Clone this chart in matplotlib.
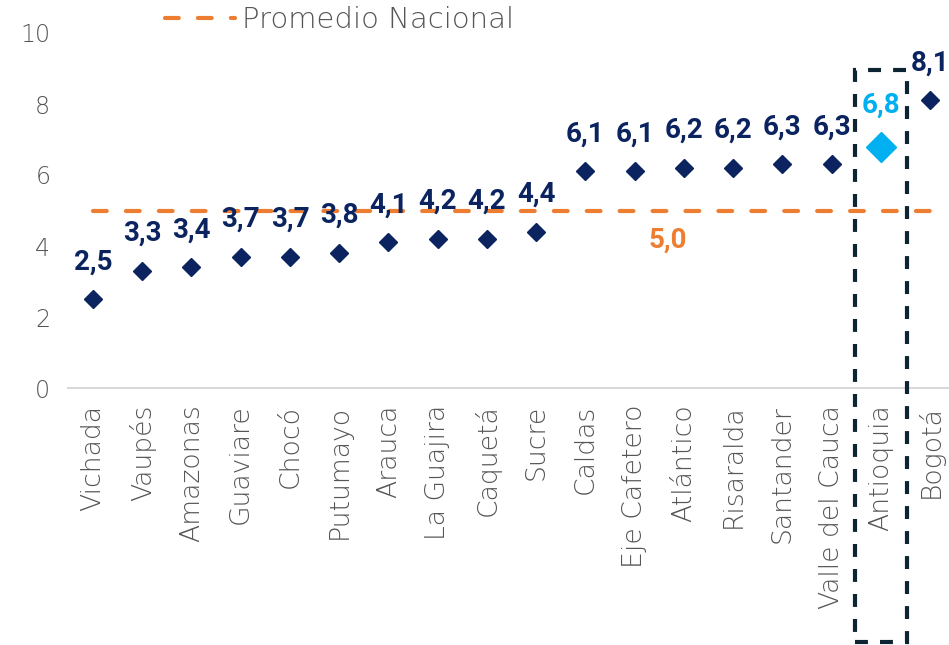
import matplotlib.pyplot as plt
from matplotlib.patches import Rectangle
from matplotlib.lines import Line2D

categories = ["Vichada", "Vaupés", "Amazonas", "Guaviare", "Chocó", "Putumayo", "Arauca",
              "La Guajira", "Caquetá", "Sucre", "Caldas", "Eje Cafetero", "Atlántico",
              "Risaralda", "Santander", "Valle del Cauca", "Antioquia", "Bogotá"]
values = [2.5, 3.3, 3.4, 3.7, 3.7, 3.8, 4.1, 4.2, 4.2, 4.4, 6.1, 6.1, 6.2, 6.2, 6.3, 6.3, 6.8, 8.1]
national_avg = 5.0
highlight = "Antioquia"
yticks = [0, 2, 4, 6, 8, 10]

NAVY = "#0B2460"
LIGHT = "#00B0F0"
ORANGE = "#ED7D31"
GRAY = "#555555"
FONT = "DejaVu Sans"
BFONT = "Roboto"
LW = 200

fig = plt.figure(figsize=(9.49, 6.45), dpi=100)
ax = fig.add_axes([68.4 / 949, 1 - 388 / 645, (954.6 - 68.4) / 949, (388 - 33) / 645])

x = list(range(len(categories)))
hi = categories.index(highlight)
for i, (xi, v) in enumerate(zip(x, values)):
    if i == hi:
        ax.plot(xi, v, marker="D", color=LIGHT, markersize=15, linestyle="none", zorder=4)
        ax.annotate(f"{v:.1f}".replace(".", ","), (xi, v), xytext=(0, 30), textcoords="offset points",
                    ha="center", va="center", color=LIGHT, fontsize=20, fontweight="bold",
                    family=BFONT, annotation_clip=False, zorder=6)
    else:
        ax.plot(xi, v, marker="D", color=NAVY, markersize=9, linestyle="none", zorder=4)
        ax.annotate(f"{v:.1f}".replace(".", ","), (xi, v), xytext=(0, 27), textcoords="offset points",
                    ha="center", va="center", color=NAVY, fontsize=20, fontweight="bold",
                    family=BFONT, annotation_clip=False, zorder=6)

avg_ls = (0, (3.3, 4.6))
ax.plot([x[0], x[-1]], [national_avg, national_avg], color=ORANGE, linewidth=3,
        linestyle=avg_ls, dash_capstyle="round", zorder=3)
ax.text(11.68, 4.17, f"{national_avg:.1f}".replace(".", ","), color=ORANGE, fontsize=20,
        fontweight="bold", family=BFONT, ha="center", va="center")

rect = Rectangle((hi - 0.53, -7.15), 1.07, 8.96 + 7.15, fill=False, edgecolor="#0D2433",
                 linewidth=3, linestyle=(0, (3.1, 2.9)), clip_on=False, zorder=5)
ax.add_patch(rect)

ax.set_xlim(-0.5, len(categories) - 0.5)
ax.set_ylim(0, 10)
ax.set_yticks(yticks)
ax.set_yticklabels([str(t) for t in yticks], color=GRAY, fontsize=17, family=FONT, fontweight=LW)
ax.set_xticks(x)
ax.set_xticklabels(categories, rotation=90, color=GRAY, fontsize=19.2, family=FONT, fontweight=LW)
ax.tick_params(axis="both", length=0)
ax.tick_params(axis="x", pad=12)
ax.tick_params(axis="y", pad=13)
for s in ["top", "right", "left"]:
    ax.spines[s].set_visible(False)
ax.spines["bottom"].set_color("#D9D9D9")
ax.spines["bottom"].set_linewidth(1.5)

handle = Line2D([0], [0], color=ORANGE, linewidth=3, linestyle=avg_ls, dash_capstyle="round")
fig.legend([handle], ["Promedio Nacional"], loc="center left", bbox_to_anchor=(165 / 949, 1 - 20 / 645),
           frameon=False, prop={"family": FONT, "size": 21, "weight": LW}, labelcolor=GRAY,
           handlelength=2.4, handletextpad=0.25, borderpad=0, borderaxespad=0)

fig.savefig("out.png", dpi=100)
